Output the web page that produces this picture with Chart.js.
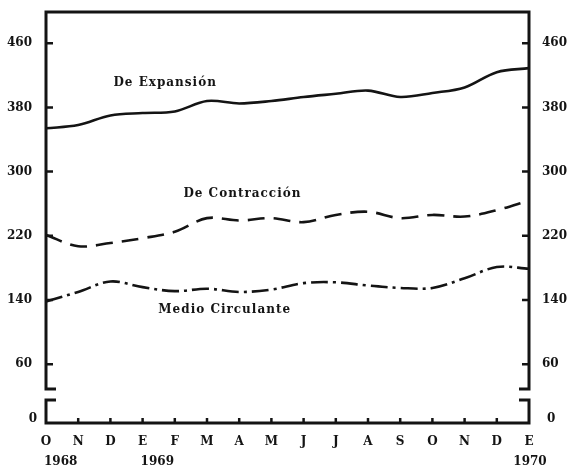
<!DOCTYPE html>
<html lang="es">
<head>
<meta charset="UTF-8">
<title>Medios de pago</title>
<script src="https://cdn.jsdelivr.net/npm/chart.js"></script>
<style>
  body { margin:0; background:#fff; }
  #wrap { position:relative; width:568px; height:470px; background:#fff; }
  #wrap canvas { position:absolute; left:0; }
  #top { top:0; }
  #bottom { top:395px; }
</style>
</head>
<body>
<div id="wrap">
  <canvas id="top" width="568" height="395"></canvas>
  <canvas id="bottom" width="568" height="75"></canvas>
</div>
<script>
const months = ['O','N','D','E','F','M','A','M','J','J','A','S','O','N','D','E'];
const years  = ['1968','','','1969','','','','','','','','','','','','1970'];
const expansion   = [354, 358, 370, 373, 375, 388, 385, 388, 393, 397, 401, 393, 398, 405, 424, 429];
const contraccion = [221, 207, 211, 217, 225, 242, 239, 242, 237, 246, 250, 242, 246, 244, 252, 264];
const circulante  = [138, 150, 163, 156, 151, 154, 150, 153, 161, 162, 158, 155, 155, 167, 181, 179];
const yTicks = [60, 140, 220, 300, 380, 460];

const ink = '#141414';
const labelFont = 'bold 12px "DejaVu Serif"';

// texto de las series, colocado con las escalas (indice de mes, valor)
const seriesNotes = [
  { text: 'De Expansión',     x: 3.7,  y: 411 },
  { text: 'De Contracción',   x: 6.1,  y: 272 },
  { text: 'Medio Circulante', x: 5.55, y: 128 }
];

function fixWidth(w) { return s => { s.width = w; }; }

// etiquetas de las escalas verticales, a los dos lados
function drawYLabels(ctx, scale, left, right, values, padL, padR) {
  ctx.fillStyle = ink;
  ctx.font = labelFont;
  ctx.textBaseline = 'middle';
  values.forEach(v => {
    const py = scale.getPixelForValue(v);
    ctx.textAlign = 'right'; ctx.fillText(String(v), left - padL, py);
    ctx.textAlign = 'left';  ctx.fillText(String(v), right + padR, py);
  });
}

const frameTop = {
  id: 'frameTop',
  afterDraw(chart) {
    const { ctx, chartArea: { left, right, top, bottom } } = chart;
    const y = chart.scales.y;
    ctx.save();
    ctx.strokeStyle = ink;
    ctx.lineWidth = 3;
    ctx.beginPath();
    ctx.moveTo(left + 10, bottom); ctx.lineTo(left, bottom); ctx.lineTo(left, top);
    ctx.lineTo(right, top); ctx.lineTo(right, bottom); ctx.lineTo(right - 10, bottom);
    ctx.stroke();
    ctx.lineWidth = 2.5;
    y.ticks.forEach(t => {
      const py = y.getPixelForValue(t.value);
      ctx.beginPath();
      ctx.moveTo(left, py); ctx.lineTo(left + 7, py);
      ctx.moveTo(right, py); ctx.lineTo(right - 7, py);
      ctx.stroke();
    });
    drawYLabels(ctx, y, left, right, y.ticks.map(t => t.value), 14, 13);
    ctx.textAlign = 'center';
    ctx.letterSpacing = '1px';
    seriesNotes.forEach(n => {
      ctx.fillText(n.text, chart.scales.x.getPixelForValue(n.x), y.getPixelForValue(n.y));
    });
    ctx.restore();
  }
};

const frameBottom = {
  id: 'frameBottom',
  afterDraw(chart) {
    const { ctx, chartArea: { left, right, top, bottom } } = chart;
    const x = chart.scales.x, y = chart.scales.y;
    ctx.save();
    ctx.strokeStyle = ink;
    ctx.lineWidth = 3;
    ctx.beginPath();
    ctx.moveTo(left + 10, top); ctx.lineTo(left, top); ctx.lineTo(left, bottom);
    ctx.lineTo(right, bottom); ctx.lineTo(right, top); ctx.lineTo(right - 10, top);
    ctx.stroke();
    ctx.lineWidth = 2.5;
    for (let i = 1; i < months.length - 1; i++) {
      const px = x.getPixelForValue(i);
      ctx.beginPath(); ctx.moveTo(px, bottom); ctx.lineTo(px, bottom - 5); ctx.stroke();
    }
    ctx.fillStyle = ink;
    ctx.font = labelFont;
    ctx.textBaseline = 'middle';
    ctx.textAlign = 'right'; ctx.fillText('0', left - 9, y.getPixelForValue(0) - 4);
    ctx.textAlign = 'left';  ctx.fillText('0', right + 18, y.getPixelForValue(0) - 4);
    // años bajo el primer mes de cada uno
    years.forEach((yr, i) => {
      if (!yr) return;
      const px = x.getPixelForValue(i);
      const last = i === years.length - 1;
      ctx.textAlign = last ? 'center' : 'left';
      ctx.fillText(yr, last ? px + 1 : px - 2, bottom + 39);
    });
    ctx.restore();
  }
};

const lineBase = { borderColor: ink, borderWidth: 2.6, pointRadius: 0, tension: 0.35, fill: false, clip: 4 };
const hiddenY = {
  border: { display: false }, grid: { display: false, drawTicks: false }, ticks: { display: false }
};

new Chart(document.getElementById('top'), {
  type: 'line',
  data: {
    labels: months,
    datasets: [
      { ...lineBase, label: 'De Expansión', data: expansion },
      { ...lineBase, label: 'De Contracción', data: contraccion, borderDash: [17, 9] },
      { ...lineBase, label: 'Medio Circulante', data: circulante, borderDash: [17, 5, 3, 5] }
    ]
  },
  options: {
    responsive: false, animation: false, devicePixelRatio: 1,
    layout: { padding: { top: 12, bottom: 6, left: 0, right: 0 } },
    plugins: { legend: { display: false }, tooltip: { enabled: false } },
    scales: {
      x: { type: 'category', display: false, offset: false },
      y: {
        ...hiddenY, position: 'left', min: 29, max: 499,
        afterBuildTicks: s => { s.ticks = yTicks.map(v => ({ value: v })); },
        afterFit: fixWidth(46)
      },
      y2: {
        ...hiddenY, position: 'right', min: 29, max: 499,
        afterFit: fixWidth(39)
      }
    }
  },
  plugins: [frameTop]
});

new Chart(document.getElementById('bottom'), {
  type: 'line',
  data: { labels: months, datasets: [] },
  options: {
    responsive: false, animation: false, devicePixelRatio: 1,
    layout: { padding: { top: 5, bottom: 0, left: 0, right: 0 } },
    plugins: { legend: { display: false }, tooltip: { enabled: false } },
    scales: {
      x: {
        type: 'category', offset: false,
        afterFit: s => { s.height = 47; },
        border: { display: false }, grid: { display: false, drawTicks: false },
        ticks: { color: ink, font: { family: 'DejaVu Serif', weight: 'bold', size: 12 },
                 padding: 12, autoSkip: false, maxRotation: 0 }
      },
      y: { ...hiddenY, position: 'left', min: 0, max: 28, afterFit: fixWidth(46) },
      y2: { ...hiddenY, position: 'right', min: 0, max: 28, afterFit: fixWidth(39) }
    }
  },
  plugins: [frameBottom]
});
</script>
</body>
</html>
